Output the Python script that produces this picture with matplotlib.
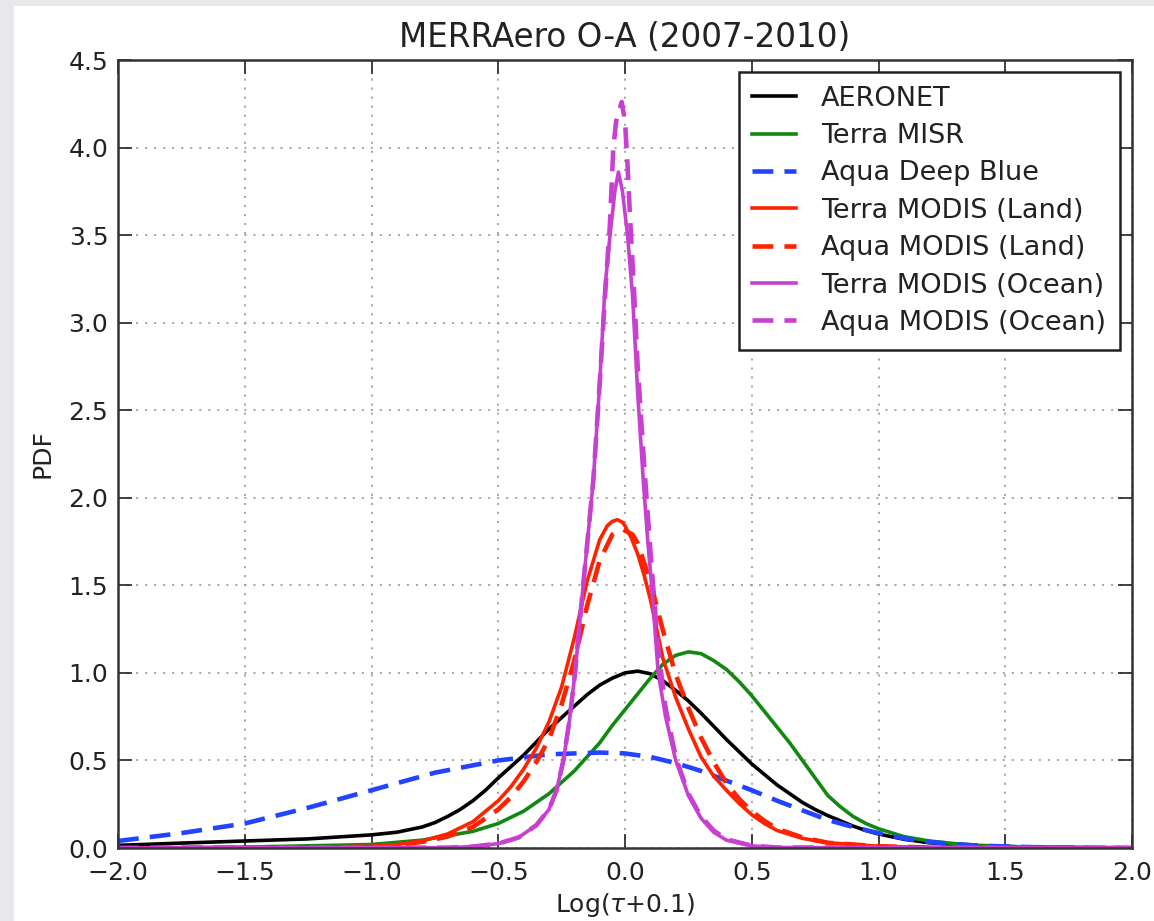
import matplotlib
matplotlib.use("Agg")
import matplotlib.pyplot as plt
from matplotlib.patches import Rectangle

plt.rcParams['font.family'] = ['DejaVu Sans']
plt.rcParams['lines.scale_dashes'] = False
plt.rcParams['mathtext.fontset'] = 'dejavusans'

# ---- data ----
aeronet_x = [-2.0, -1.75, -1.5, -1.25, -1.0, -0.9, -0.8, -0.75, -0.7, -0.65, -0.6, -0.55, -0.5, -0.45, -0.4, -0.35,
             -0.3, -0.25, -0.2, -0.15, -0.1, -0.05, 0.0, 0.05, 0.1, 0.15, 0.2, 0.25, 0.3, 0.35, 0.4, 0.45, 0.5, 0.55,
             0.6, 0.65, 0.7, 0.75, 0.8, 0.85, 0.9, 0.95, 1.0, 1.1, 1.2, 1.3, 1.4, 1.6, 1.8, 2.0]
aeronet_y = [0.015, 0.028, 0.04, 0.052, 0.075, 0.09, 0.12, 0.145, 0.18, 0.22, 0.27, 0.33, 0.40, 0.465, 0.53, 0.605,
             0.68, 0.745, 0.81, 0.875, 0.93, 0.97, 1.0, 1.01, 0.995, 0.955, 0.90, 0.84, 0.77, 0.695, 0.62, 0.55, 0.48,
             0.42, 0.36, 0.31, 0.26, 0.22, 0.185, 0.155, 0.125, 0.1, 0.08, 0.05, 0.03, 0.02, 0.012, 0.005, 0.002, 0.0]

misr_x = [-2.0, -1.5, -1.0, -0.8, -0.6, -0.5, -0.4, -0.3, -0.2, -0.15, -0.1, -0.05, 0.0, 0.05, 0.1, 0.15, 0.2, 0.25,
          0.3, 0.35, 0.4, 0.45, 0.5, 0.55, 0.6, 0.65, 0.7, 0.75, 0.8, 0.85, 0.9, 0.95, 1.0, 1.1, 1.2, 1.3, 1.4, 1.6,
          1.8, 2.0]
misr_y = [0.0, 0.005, 0.02, 0.045, 0.095, 0.14, 0.21, 0.31, 0.44, 0.52, 0.6, 0.70, 0.79, 0.88, 0.97, 1.05, 1.1, 1.12,
          1.11, 1.07, 1.02, 0.95, 0.87, 0.78, 0.69, 0.6, 0.5, 0.4, 0.30, 0.235, 0.18, 0.14, 0.11, 0.065, 0.04, 0.025,
          0.015, 0.005, 0.002, 0.0]

deepblue_x = [-2.0, -1.75, -1.5, -1.25, -1.0, -0.75, -0.5, -0.3, -0.1, 0.0, 0.1, 0.2, 0.3, 0.4, 0.5, 0.6, 0.7, 0.8,
              0.9, 1.0, 1.1, 1.2, 1.3, 1.4, 1.6, 1.8, 2.0]
deepblue_y = [0.04, 0.085, 0.14, 0.23, 0.33, 0.43, 0.50, 0.535, 0.545, 0.54, 0.52, 0.485, 0.44, 0.385, 0.33, 0.27,
              0.215, 0.16, 0.12, 0.085, 0.055, 0.035, 0.022, 0.013, 0.005, 0.002, 0.0]

terra_land_x = [-2.0, -1.2, -1.0, -0.9, -0.8, -0.7, -0.6, -0.5, -0.45, -0.4, -0.35, -0.3, -0.25, -0.2, -0.15, -0.1,
                -0.07, -0.05, -0.03, -0.01, 0.0, 0.025, 0.05, 0.075, 0.1, 0.15, 0.2, 0.25, 0.3, 0.35, 0.4, 0.45, 0.5,
                0.55, 0.6, 0.7, 0.8, 1.0, 1.2, 2.0]
terra_land_y = [0.0, 0.003, 0.01, 0.02, 0.04, 0.08, 0.15, 0.27, 0.35, 0.45, 0.57, 0.72, 0.92, 1.2, 1.52, 1.76,
                1.84, 1.865, 1.875, 1.86, 1.84, 1.77, 1.68, 1.56, 1.42, 1.08, 0.86, 0.68, 0.52, 0.41, 0.33, 0.255,
                0.19, 0.14, 0.1, 0.055, 0.03, 0.01, 0.003, 0.0]

aqua_land_x = [-2.0, -1.2, -1.0, -0.9, -0.8, -0.7, -0.6, -0.5, -0.45, -0.4, -0.35, -0.3, -0.25, -0.2, -0.15, -0.1,
               -0.05, -0.01, 0.03, 0.05, 0.1, 0.15, 0.2, 0.25, 0.3, 0.35, 0.4, 0.45, 0.5, 0.55, 0.6, 0.7, 0.8, 1.0,
               1.2, 2.0]
aqua_land_y = [0.0, 0.003, 0.008, 0.017, 0.035, 0.065, 0.12, 0.22, 0.29, 0.38, 0.49, 0.62, 0.82, 1.07, 1.38, 1.64,
               1.79, 1.82, 1.79, 1.74, 1.52, 1.24, 0.99, 0.8, 0.63, 0.49, 0.37, 0.28, 0.21, 0.155, 0.11, 0.06, 0.03,
               0.01, 0.003, 0.0]

terra_ocean_x = [-2.0, -0.7, -0.6, -0.5, -0.42, -0.35, -0.3, -0.27, -0.243, -0.22, -0.197, -0.165, -0.145, -0.125,
                 -0.1, -0.079, -0.059, -0.04, -0.026, -0.01, 0.01, 0.03, 0.05, 0.072, 0.09, 0.105, 0.131, 0.16, 0.2,
                 0.25, 0.3, 0.35, 0.4, 0.5, 0.6, 2.0]
terra_ocean_y = [0.0, 0.002, 0.008, 0.025, 0.06, 0.13, 0.22, 0.33, 0.5, 0.72, 1.0, 1.5, 1.8, 2.1,
                 2.65, 3.2, 3.5, 3.75, 3.86, 3.75, 3.5, 3.15, 2.6, 2.1, 1.75, 1.5, 1.0, 0.75, 0.5,
                 0.3, 0.17, 0.09, 0.045, 0.012, 0.003, 0.0]

aqua_ocean_x = [-2.0, -0.7, -0.6, -0.5, -0.42, -0.35, -0.3, -0.27, -0.243, -0.22, -0.197, -0.165, -0.125, -0.1,
                -0.079, -0.06, -0.046, -0.035, -0.013, 0.0, 0.01, 0.02, 0.035, 0.05, 0.075, 0.1, 0.13, 0.16, 0.2,
                0.25, 0.3, 0.35, 0.4, 0.5, 0.6, 2.0]
aqua_ocean_y = [0.0, 0.002, 0.008, 0.025, 0.06, 0.13, 0.22, 0.33, 0.5, 0.72, 1.0, 1.5, 2.1, 2.65,
                3.15, 3.55, 4.0, 4.15, 4.26, 4.15, 3.9, 3.6, 3.2, 2.75, 2.2, 1.7, 1.15, 0.8, 0.52,
                0.31, 0.18, 0.1, 0.05, 0.013, 0.003, 0.0]

x_ticks = [-2.0, -1.5, -1.0, -0.5, 0.0, 0.5, 1.0, 1.5, 2.0]
y_ticks = [0.0, 0.5, 1.0, 1.5, 2.0, 2.5, 3.0, 3.5, 4.0, 4.5]

W, H = 1154, 921
fig = plt.figure(figsize=(W / 100, H / 100), dpi=100)
fig.patch.set_facecolor('white')
# light grey border strips at the left and top of the image
fig.patches.append(Rectangle((0, 0), 14 / W, 1, transform=fig.transFigure,
                             facecolor='#e8e8ec', edgecolor='none', zorder=-10))
fig.patches.append(Rectangle((0, 1 - 6 / H), 1, 6 / H, transform=fig.transFigure,
                             facecolor='#e8e8ec', edgecolor='none', zorder=-10))

ax = fig.add_axes([118 / W, 1 - 848 / H, (1132 - 118) / W, (848 - 60) / H])

dash = (0, (15, 8))
lw_s, lw_d = 2.6, 3.3
ax.plot(aeronet_x, aeronet_y, color='black', lw=lw_s, label='AERONET')
ax.plot(misr_x, misr_y, color='#118811', lw=lw_s, label='Terra MISR')
ax.plot(deepblue_x, deepblue_y, color='#2244ff', lw=lw_d, ls=dash, label='Aqua Deep Blue')
ax.plot(terra_land_x, terra_land_y, color='#ff2200', lw=lw_s, label='Terra MODIS (Land)')
ax.plot(aqua_land_x, aqua_land_y, color='#ff2200', lw=lw_d, ls=dash, label='Aqua MODIS (Land)')
ax.plot(terra_ocean_x, terra_ocean_y, color='#c840d0', lw=lw_s, label='Terra MODIS (Ocean)')
ax.plot(aqua_ocean_x, aqua_ocean_y, color='#c840d0', lw=lw_d, ls=dash, label='Aqua MODIS (Ocean)')

ax.set_xlim(-2, 2)
ax.set_ylim(0, 4.5)
ax.set_xticks(x_ticks)
ax.set_yticks(y_ticks)
ax.set_xticklabels([f"{v:.1f}".replace('-', '\u2212') for v in x_ticks])
ax.set_yticklabels([f"{v:.1f}" for v in y_ticks])
ax.tick_params(direction='in', length=10, width=1.2, top=True, right=True, labelsize=18,
               colors='#222222', pad=7)
ax.tick_params(axis='x', pad=9)
for s in ax.spines.values():
    s.set_linewidth(1.8)
    s.set_color('#333333')
ax.grid(True, color='#a0a0a0', lw=1.3, ls=(0, (1.5, 5)))

ax.set_title('MERRAero O-A (2007-2010)', fontsize=23.5, color='#222222', pad=9)
ax.set_xlabel(r'Log($\tau$+0.1)', fontsize=18, color='#222222', labelpad=5)
ax.set_ylabel('PDF', fontsize=18, color='#222222', labelpad=10)

leg = ax.legend(loc='upper right', fontsize=19.5, frameon=True, fancybox=False, framealpha=1,
                edgecolor='#222222', handlelength=1.6, handletextpad=0.95, labelspacing=0.42,
                borderpad=0.5, borderaxespad=0.45)
leg.get_frame().set_linewidth(1.8)
for t in leg.get_texts():
    t.set_color('#222222')

fig.savefig('out.png', dpi=100, facecolor=fig.get_facecolor())
